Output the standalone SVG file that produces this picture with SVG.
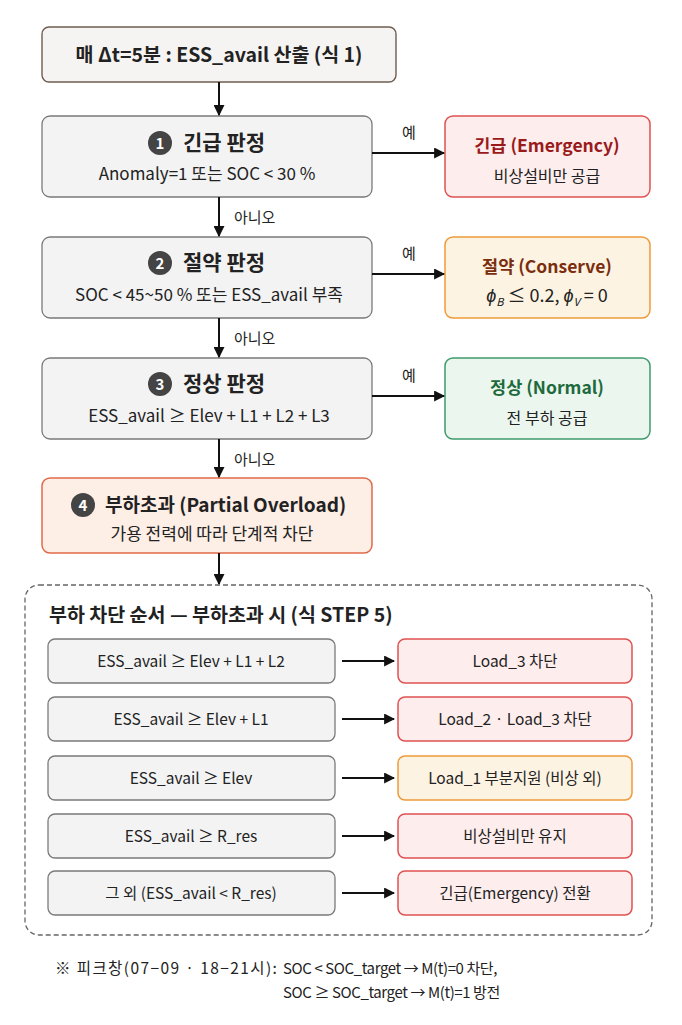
<svg xmlns="http://www.w3.org/2000/svg" width="682" height="1025" viewBox="0 0 682 1025">
<defs>
<marker id="ah" viewBox="0 0 10 10" refX="9" refY="5" markerWidth="5.5" markerHeight="5.5" markerUnits="strokeWidth" orient="auto">
<path d="M0,0 L10,5 L0,10 z" fill="#111"/>
</marker>
<style>
text{font-family:"Noto Sans CJK KR","Liberation Sans",sans-serif;fill:#222;}
.t{font-size:21px;font-weight:700;}
.s{font-size:17px;text-anchor:middle;}
.r{font-size:16px;text-anchor:middle;}
.i{font-size:15.5px;text-anchor:middle;}
.rt{font-size:17.5px;font-weight:700;text-anchor:middle;}
.lab{font-size:15px;}
.dec{fill:#f3f3f3;stroke:#7a7a7a;stroke-width:1.3;}
.red{fill:#fdeded;stroke:#e05252;stroke-width:1.5;}
.org{fill:#fdf3e2;stroke:#ee9a3a;stroke-width:1.5;}
.grn{fill:#ebf6ef;stroke:#3e9a6c;stroke-width:1.5;}
.num{fill:#444;}
.nt{font-size:15px;font-weight:700;fill:#fff;text-anchor:middle;}
.ln{stroke:#111;stroke-width:2;fill:none;marker-end:url(#ah);}
.fn{font-size:15px;}
</style>
</defs>
<rect width="682" height="1025" fill="#fff"/>

<g id="start">
<rect x="42" y="27" width="354" height="55" rx="7" fill="#f6f4f2" stroke="#6e5d52" stroke-width="1.4"/>
<text x="219" y="61.5" style="font-size:19.5px;font-weight:700;text-anchor:middle">매 Δt=5분 : ESS_avail 산출 (식 1)</text>
</g>

<g id="d1">
<rect x="42" y="116" width="330" height="81" rx="8" class="dec"/>
<circle cx="160" cy="143" r="12" class="num"/>
<text x="160" y="148.5" class="nt">1</text>
<text x="183" y="150" class="t">긴급 판정</text>
<text x="207" y="180" class="s">Anomaly=1 또는 SOC &lt; 30 %</text>
</g>

<g id="emergency">
<rect x="445" y="116" width="205" height="81" rx="8" class="red"/>
<text x="547" y="152" class="rt" style="fill:#9a1a1a">긴급 (Emergency)</text>
<text x="547" y="182" class="r">비상설비만 공급</text>
</g>

<g id="d2">
<rect x="42" y="237" width="330" height="81" rx="8" class="dec"/>
<circle cx="160" cy="263" r="12" class="num"/>
<text x="160" y="268.5" class="nt">2</text>
<text x="183" y="270" class="t">절약 판정</text>
<text x="209" y="301" class="s">SOC &lt; 45~50 % 또는 ESS_avail 부족</text>
</g>

<g id="conserve">
<rect x="445" y="237" width="205" height="81" rx="8" class="org"/>
<text x="547" y="273" class="rt" style="fill:#7a2e0e">절약 (Conserve)</text>
<text x="547" y="302" style="font-size:18px;text-anchor:middle"><tspan font-style="italic">ϕ</tspan><tspan font-size="11" font-style="italic" dy="4">B</tspan><tspan dy="-4"> ≤ 0.2,  </tspan><tspan font-style="italic">ϕ</tspan><tspan font-size="11" font-style="italic" dy="4">V</tspan><tspan dy="-4"> = 0</tspan></text>
</g>

<g id="d3">
<rect x="42" y="358" width="330" height="81" rx="8" class="dec"/>
<circle cx="160" cy="384" r="12" class="num"/>
<text x="160" y="389.5" class="nt">3</text>
<text x="183" y="391" class="t">정상 판정</text>
<text x="209" y="422" class="s">ESS_avail ≥ Elev + L1 + L2 + L3</text>
</g>

<g id="normal">
<rect x="445" y="358" width="205" height="81" rx="8" class="grn"/>
<text x="547" y="394" class="rt" style="fill:#1d6a3c">정상 (Normal)</text>
<text x="547" y="424" class="r">전 부하 공급</text>
</g>

<g id="d4">
<rect x="42" y="478" width="330" height="75" rx="8" fill="#fdeee6" stroke="#e06a48" stroke-width="1.5"/>
<circle cx="83" cy="505" r="12" class="num"/>
<text x="83" y="510.5" class="nt">4</text>
<text x="105" y="512" class="t" style="font-size:19px">부하초과 (Partial Overload)</text>
<text x="212" y="540" class="s">가용 전력에 따라 단계적 차단</text>
</g>

<g id="connectors">
<line x1="219" y1="82" x2="219" y2="115" class="ln"/>
<line x1="219" y1="197" x2="219" y2="236" class="ln"/>
<line x1="219" y1="318" x2="219" y2="357" class="ln"/>
<line x1="219" y1="439" x2="219" y2="477" class="ln"/>
<line x1="219" y1="553" x2="219" y2="584" class="ln"/>
<line x1="372" y1="153" x2="444" y2="153" class="ln"/>
<line x1="372" y1="274" x2="444" y2="274" class="ln"/>
<line x1="372" y1="396" x2="444" y2="396" class="ln"/>
<text x="402" y="138" class="lab">예</text>
<text x="402" y="259" class="lab">예</text>
<text x="402" y="381" class="lab">예</text>
<text x="234" y="223" class="lab">아니오</text>
<text x="234" y="344" class="lab">아니오</text>
<text x="234" y="465" class="lab">아니오</text>
<line x1="342" y1="661" x2="394" y2="661" class="ln"/>
<line x1="342" y1="719" x2="394" y2="719" class="ln"/>
<line x1="342" y1="778" x2="394" y2="778" class="ln"/>
<line x1="342" y1="836" x2="394" y2="836" class="ln"/>
<line x1="342" y1="893" x2="394" y2="893" class="ln"/>
</g>

<g id="shed">
<rect x="25" y="585" width="627" height="350" rx="14" fill="none" stroke="#666" stroke-width="1.3" stroke-dasharray="5,3"/>
<text x="49" y="622" style="font-size:19.5px;font-weight:700">부하 차단 순서 — 부하초과 시 (식 STEP 5)</text>
</g>

<g id="c1"><rect x="48" y="639" width="287" height="44" rx="7" class="dec"/><text x="191" y="667" class="i">ESS_avail ≥ Elev + L1 + L2</text></g>
<g id="r1"><rect x="398" y="639" width="234" height="44" rx="7" class="red"/><text x="515" y="667" class="i">Load_3 차단</text></g>
<g id="c2"><rect x="48" y="697" width="287" height="44" rx="7" class="dec"/><text x="191" y="725" class="i">ESS_avail ≥ Elev + L1</text></g>
<g id="r2"><rect x="398" y="697" width="234" height="44" rx="7" class="red"/><text x="515" y="725" class="i">Load_2 · Load_3 차단</text></g>
<g id="c3"><rect x="48" y="756" width="287" height="44" rx="7" class="dec"/><text x="191" y="784" class="i">ESS_avail ≥ Elev</text></g>
<g id="r3"><rect x="398" y="756" width="234" height="44" rx="7" class="org"/><text x="515" y="784" class="i">Load_1 부분지원 (비상 외)</text></g>
<g id="c4"><rect x="48" y="814" width="287" height="44" rx="7" class="dec"/><text x="191" y="842" class="i">ESS_avail ≥ R_res</text></g>
<g id="r4"><rect x="398" y="814" width="234" height="44" rx="7" class="red"/><text x="515" y="842" class="i">비상설비만 유지</text></g>
<g id="c5"><rect x="48" y="871" width="287" height="44" rx="7" class="dec"/><text x="191" y="899" class="i">그 외 (ESS_avail &lt; R_res)</text></g>
<g id="r5"><rect x="398" y="871" width="234" height="44" rx="7" class="red"/><text x="515" y="899" class="i">긴급(Emergency) 전환</text></g>

<g id="note">
<text x="55" y="974" class="fn" style="font-size:15.5px;letter-spacing:1.4px">※ 피크창(07−09 · 18−21시):</text>
<text x="283" y="974" class="fn" style="letter-spacing:-0.4px">SOC &lt; SOC_target → M(t)=0 차단,</text>
<text x="283" y="998" class="fn" style="letter-spacing:-0.4px">SOC ≥ SOC_target → M(t)=1 방전</text>
</g>
</svg>
